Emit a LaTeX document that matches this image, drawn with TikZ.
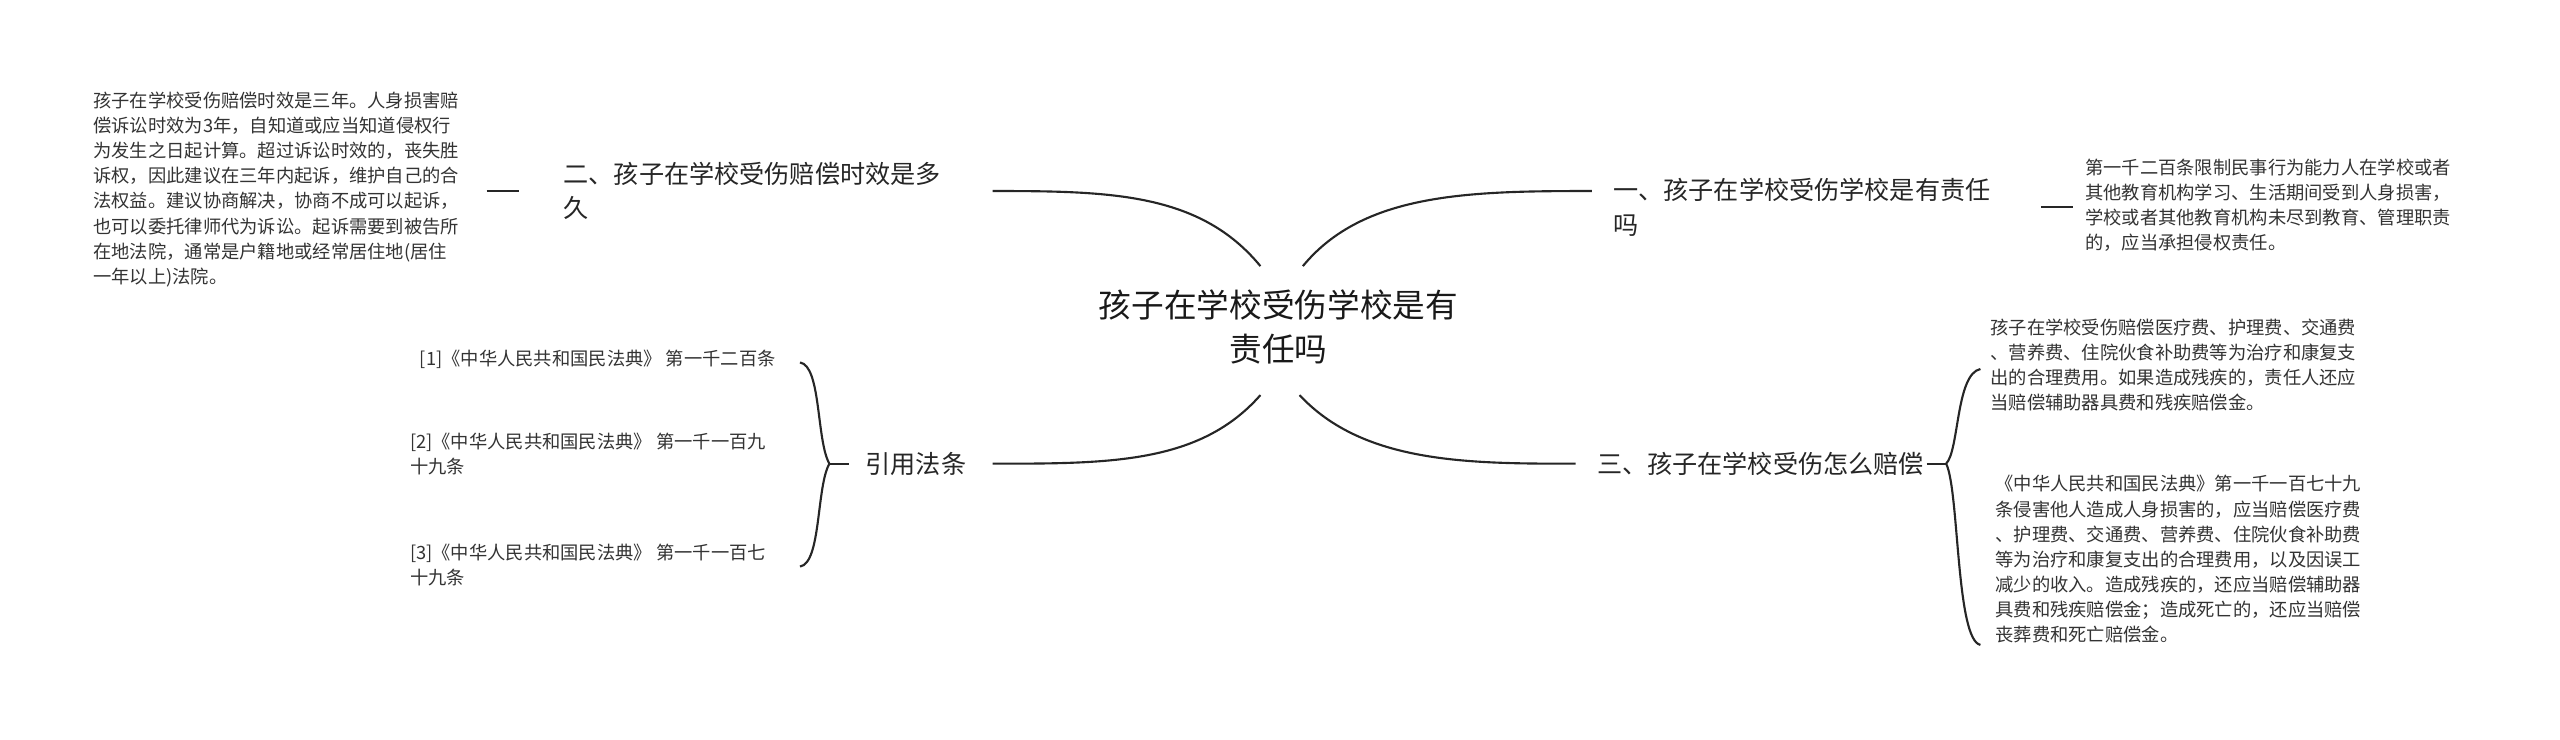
\documentclass[tikz,border=0pt]{standalone}
\usepackage{fontspec}
\setmainfont{Noto Sans CJK SC}
\begin{document}
\begin{tikzpicture}[x=1pt,y=-1pt,
  lk/.style={line width=1.3pt,draw=black!85},
  leaf/.style={inner sep=0pt,anchor=north west,align=left,text=black!80,font=\fontsize{11.2}{15.4}\selectfont},
  br/.style={inner sep=0pt,anchor=west,align=left,text=black!85,font=\fontsize{15.4}{21}\selectfont}]
\useasboundingbox (0,0) rectangle (1568,453);
\node[inner sep=0pt,align=center,text=black!90,font=\fontsize{20}{27}\selectfont] (c) at (783,200) {孩子在学校受伤学校是有\\责任吗};
\coordinate (cl1) at (772,163); \coordinate (cr1) at (798,163);
\coordinate (cl2) at (772,242); \coordinate (cr2) at (796,242);
\node[br] (b2) at (345,117) {二、孩子在学校受伤赔偿时效是多\\久};
\node[br] (b1) at (988,127) {一、孩子在学校受伤学校是有责任\\吗};
\node[br] (b4) at (530,284) {引用法条};
\node[br] (b3) at (978,284) {三、孩子在学校受伤怎么赔偿};
\coordinate (e2) at (608,117); \coordinate (e1) at (975,117);
\coordinate (e4) at (608,284); \coordinate (e3) at (965,284);
\draw[lk] (cl1) .. controls (735,118) and (680,117) .. (e2);
\draw[lk] (cr1) .. controls (835,118) and (900,117) .. (e1);
\draw[lk] (cl2) .. controls (735,284) and (680,284) .. (e4);
\draw[lk] (cr2) .. controls (835,284) and (900,284) .. (e3);
% left leaf
\node[leaf] (l2) at (57,56) {孩子在学校受伤赔偿时效是三年。人身损害赔\\偿诉讼时效为3年，自知道或应当知道侵权行\\为发生之日起计算。超过诉讼时效的，丧失胜\\诉权，因此建议在三年内起诉，维护自己的合\\法权益。建议协商解决，协商不成可以起诉，\\也可以委托律师代为诉讼。起诉需要到被告所\\在地法院，通常是户籍地或经常居住地(居住\\一年以上)法院。};
\coordinate (k2a) at (298,117); \coordinate (k2b) at (318,117);
\draw[lk] (k2a) -- (k2b);
% right top leaf
\node[leaf] (l1) at (1277,97) {第一千二百条限制民事行为能力人在学校或者\\其他教育机构学习、生活期间受到人身损害，\\学校或者其他教育机构未尽到教育、管理职责\\的，应当承担侵权责任。};
\coordinate (k1a) at (1250,127); \coordinate (k1b) at (1270,127);
\draw[lk] (k1a) -- (k1b);
% references
\node[leaf] (r1) at (257,214) {[1]《中华人民共和国民法典》 第一千二百条};
\node[leaf] (r2) at (251,265) {[2]《中华人民共和国民法典》 第一千一百九\\十九条};
\node[leaf] (r3) at (251,333) {[3]《中华人民共和国民法典》 第一千一百七\\十九条};
\coordinate (q1) at (490,222); \coordinate (q2) at (508,284); \coordinate (q3) at (490,347); \coordinate (q4) at (520,284);
\draw[lk] (q1) .. controls (503,224) and (500,270) .. (q2) .. controls (500,298) and (503,345) .. (q3);
\draw[lk] (q2) -- (q4);
% right bottom leaves
\node[leaf] (l3a) at (1219,195) {孩子在学校受伤赔偿医疗费、护理费、交通费\\、营养费、住院伙食补助费等为治疗和康复支\\出的合理费用。如果造成残疾的，责任人还应\\当赔偿辅助器具费和残疾赔偿金。};
\node[leaf] (l3b) at (1222,291) {《中华人民共和国民法典》第一千一百七十九\\条侵害他人造成人身损害的，应当赔偿医疗费\\、护理费、交通费、营养费、住院伙食补助费\\等为治疗和康复支出的合理费用，以及因误工\\减少的收入。造成残疾的，还应当赔偿辅助器\\具费和残疾赔偿金；造成死亡的，还应当赔偿\\丧葬费和死亡赔偿金。};
\coordinate (p1) at (1213,226); \coordinate (p2) at (1192,284); \coordinate (p3) at (1213,395); \coordinate (p4) at (1180,284);
\draw[lk] (p1) .. controls (1198,229) and (1200,276) .. (p2) .. controls (1200,300) and (1198,392) .. (p3);
\draw[lk] (p4) -- (p2);
\end{tikzpicture}
\end{document}
